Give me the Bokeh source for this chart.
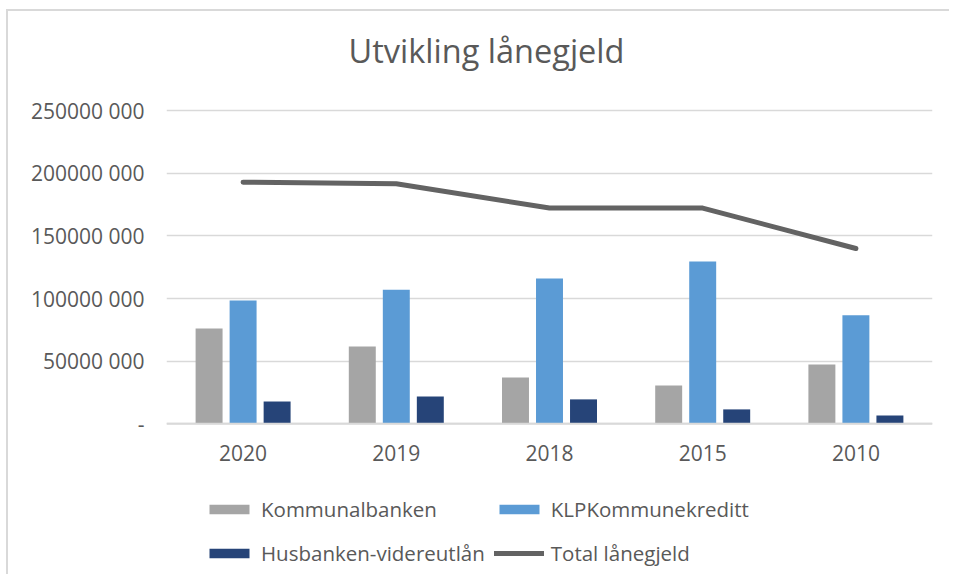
from bokeh.plotting import figure
from bokeh.models import (ColumnDataSource, FactorRange, Range1d, FixedTicker,
                          Legend, LegendItem, Label, Span)
from bokeh.core.properties import value
from bokeh.transform import dodge
from bokeh.embed import file_html
from bokeh.resources import INLINE

# ---- data ----
years = ["2020", "2019", "2018", "2015", "2010"]
kommunalbanken = [76_100_000, 61_700_000, 37_000_000, 30_600_000, 47_400_000]
klp_kommunekreditt = [98_500_000, 107_100_000, 116_100_000, 129_700_000, 86_600_000]
husbanken = [17_800_000, 21_800_000, 19_500_000, 11_500_000, 6_600_000]
total = [193_000_000, 191_700_000, 172_300_000, 172_300_000, 140_000_000]

y_ticks = [0, 50_000_000, 100_000_000, 150_000_000, 200_000_000, 250_000_000]
y_tick_labels = ["-", "50000 000", "100000 000", "150000 000", "200000 000", "250000 000"]

title_text = "Utvikling lånegjeld"
series_names = ["Kommunalbanken", "KLPKommunekreditt", "Husbanken-videreutlån", "Total lånegjeld"]

FONT = "Open Sans"
TXT = "#595959"
GRID = "#D9D9D9"
C_GRAY = "#A5A5A5"
C_BLUE = "#5B9BD5"
C_NAVY = "#264478"
C_LINE = "#636363"

src = ColumnDataSource(dict(year=years, kb=kommunalbanken, klp=klp_kommunekreditt,
                            hb=husbanken, tot=total))

# the frame covers the whole chart box (title above, category labels and legend below)
p = figure(width=943, height=565, output_backend="svg", toolbar_location=None,
           x_range=FactorRange(*years, range_padding=0),
           y_range=Range1d(-121_960_000, 322_100_000),
           min_border_left=158, min_border_right=19, min_border_top=9, min_border_bottom=0)
p.outline_line_color = None
p.background_fill_color = "white"
p.border_fill_color = "white"
p.styles = {"border-top": "2px solid #D9D9D9", "border-left": "2px solid #D9D9D9",
            "margin-left": "6px", "margin-top": "9px"}

bw = 0.176
off = 0.222
r1 = p.vbar(x=dodge("year", -off, range=p.x_range), top="kb", width=bw, source=src,
            fill_color=C_GRAY, line_color=None)
r2 = p.vbar(x=dodge("year", 0, range=p.x_range), top="klp", width=bw, source=src,
            fill_color=C_BLUE, line_color=None)
r3 = p.vbar(x=dodge("year", off, range=p.x_range), top="hb", width=bw, source=src,
            fill_color=C_NAVY, line_color=None)
r4 = p.line(x="year", y="tot", source=src, line_color=C_LINE, line_width=5,
            line_cap="round", line_join="round")

# y axis
p.yaxis.ticker = FixedTicker(ticks=y_ticks)
p.yaxis.major_label_overrides = {t: l for t, l in zip(y_ticks, y_tick_labels)}
p.yaxis.axis_line_color = None
p.yaxis.major_tick_line_color = None
p.yaxis.minor_tick_line_color = None
p.yaxis.major_label_standoff = 16
p.yaxis.major_label_text_font = FONT
p.yaxis.major_label_text_font_size = "21px"
p.yaxis.major_label_text_color = TXT

# x axis: category labels drawn under the zero line
p.xaxis.visible = False
p.xgrid.grid_line_color = None
p.ygrid.grid_line_color = GRID
p.ygrid.grid_line_width = 1.5
p.add_layout(Span(location=0, dimension="width", line_color=GRID, line_width=2))
X_LABEL_Y = -23_700_000
p.text(x=years, y=[X_LABEL_Y] * len(years), text=years, text_align="center",
       text_baseline="middle", text_font=value(FONT), text_font_size="21px",
       text_color=TXT)

# title
title = Label(x=320, y=526, x_units="screen", y_units="screen", text=title_text,
              text_align="center", text_baseline="alphabetic",
              text_font=FONT, text_font_size="32.5px", text_color=TXT)
p.add_layout(title)

legend = Legend(items=[LegendItem(label=series_names[0], renderers=[r1]),
                       LegendItem(label=series_names[1], renderers=[r2]),
                       LegendItem(label=series_names[2], renderers=[r3]),
                       LegendItem(label=series_names[3], renderers=[r4])],
                orientation="horizontal", ncols=2,
                location=(38, 6))
legend.glyph_width = 50
legend.glyph_height = 12
legend.label_height = 35
legend.label_standoff = 7
legend.spacing = 9
legend.padding = 0
legend.margin = 0
legend.border_line_color = None
legend.background_fill_alpha = 0
legend.label_text_font = FONT
legend.label_text_font_size = "20.5px"
legend.label_text_color = TXT
p.add_layout(legend)

open("out.html", "w").write(file_html(p, INLINE))
